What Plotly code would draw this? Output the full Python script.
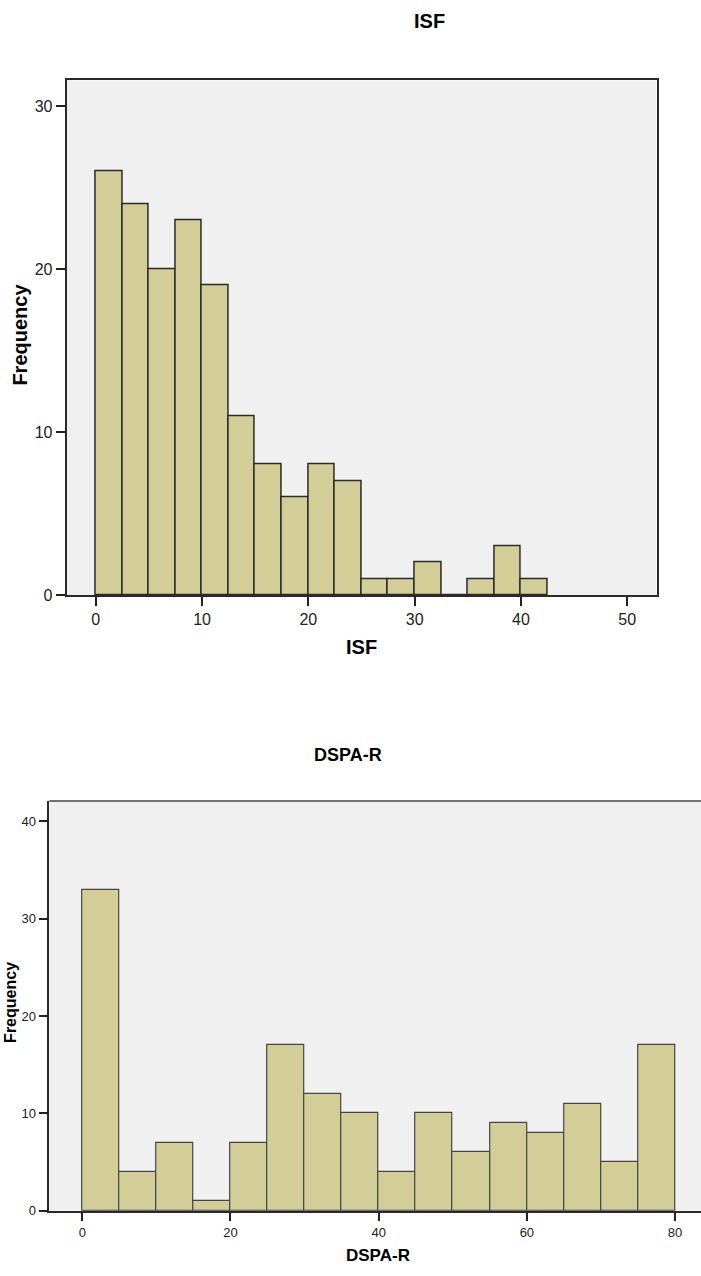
import plotly.graph_objects as go

# ---- data ----
isf_bin_start = [0, 2.5, 5, 7.5, 10, 12.5, 15, 17.5, 20, 22.5, 25, 27.5, 30, 32.5, 35, 37.5, 40]
isf_counts = [26, 24, 20, 23, 19, 11, 8, 6, 8, 7, 1, 1, 2, 0, 1, 3, 1]
isf_bin_width = 2.5

dspa_bin_start = [0, 5, 10, 15, 20, 25, 30, 35, 40, 45, 50, 55, 60, 65, 70, 75]
dspa_counts = [33, 4, 7, 1, 7, 17, 12, 10, 4, 10, 6, 9, 8, 11, 5, 17]
dspa_bin_width = 5

isf_xticks = [0, 10, 20, 30, 40, 50]
isf_yticks = [0, 10, 20, 30]
dspa_xticks = [0, 20, 40, 60, 80]
dspa_yticks = [0, 10, 20, 30, 40]

W, H = 701, 1276
FONT = "Liberation Sans, Arial, sans-serif"
BAR_FILL = "#D3CE97"
BG = "#F0F0F0"

def px_x(p):
    return p / W

def px_y(p):
    return 1 - p / H

fig = go.Figure()

fig.add_trace(go.Bar(
    x=[s + isf_bin_width / 2 for s in isf_bin_start], y=isf_counts,
    width=[isf_bin_width] * len(isf_counts),
    marker=dict(color=BAR_FILL, line=dict(color="#2a2a2a", width=1.5)),
    xaxis="x", yaxis="y", showlegend=False, hoverinfo="x+y",
))
fig.add_trace(go.Bar(
    x=[s + dspa_bin_width / 2 for s in dspa_bin_start], y=dspa_counts,
    width=[dspa_bin_width] * len(dspa_counts),
    marker=dict(color=BAR_FILL, line=dict(color="#444444", width=1.2)),
    xaxis="x2", yaxis="y2", showlegend=False, hoverinfo="x+y",
))

axis_common = dict(showgrid=False, zeroline=False, ticks="outside",
                   tickcolor="#222", showline=True, linecolor="#2a2a2a")

fig.update_layout(
    width=W, height=H,
    margin=dict(l=0, r=0, t=0, b=0),
    paper_bgcolor="white",
    plot_bgcolor=BG,
    bargap=0,
    font=dict(family=FONT, color="#222"),
    xaxis=dict(domain=[px_x(66.7), px_x(656.7)], range=[-2.73, 52.77],
               tickvals=isf_xticks, ticklen=9, tickwidth=2, linewidth=2,
               mirror=True, tickfont=dict(size=16), anchor="y", **axis_common),
    yaxis=dict(domain=[px_y(599.3), px_y(80.7)], range=[0, 31.58],
               tickvals=isf_yticks, ticklen=9, tickwidth=2, linewidth=2,
               mirror=True, tickfont=dict(size=16), anchor="x", **axis_common),
    xaxis2=dict(domain=[px_x(49.3), 1.0], range=[-4.45, 83.5],
                tickvals=dspa_xticks, ticklen=9, tickwidth=1.5, linewidth=1.5,
                tickfont=dict(size=13), anchor="y2", **axis_common),
    yaxis2=dict(domain=[px_y(1219.3), px_y(806.7)], range=[0, 42.1],
                tickvals=dspa_yticks, ticklen=9, tickwidth=1.5, linewidth=1.5,
                tickfont=dict(size=13), anchor="x2", **axis_common),
    shapes=[dict(type="line", xref="paper", yref="paper",
                 x0=px_x(49.3), x1=1.0, y0=px_y(806.7), y1=px_y(806.7),
                 line=dict(color="#444", width=1.5))],
)

def ann(text, x, y, size, angle=0):
    fig.add_annotation(text=f"<b>{text}</b>", xref="paper", yref="paper",
                       x=px_x(x), y=px_y(y), xanchor="center", yanchor="middle",
                       showarrow=False, textangle=angle,
                       font=dict(family=FONT, size=size, color="#000"))

ann("ISF", 429, 21, 20)
ann("ISF", 361.5, 652, 20)
ann("Frequency", 20, 337, 20, -90)
ann("DSPA-R", 347.5, 760, 18)
ann("DSPA-R", 378, 1264, 17)
ann("Frequency", 11, 1010, 16, -90)

fig.write_html("out.html")
